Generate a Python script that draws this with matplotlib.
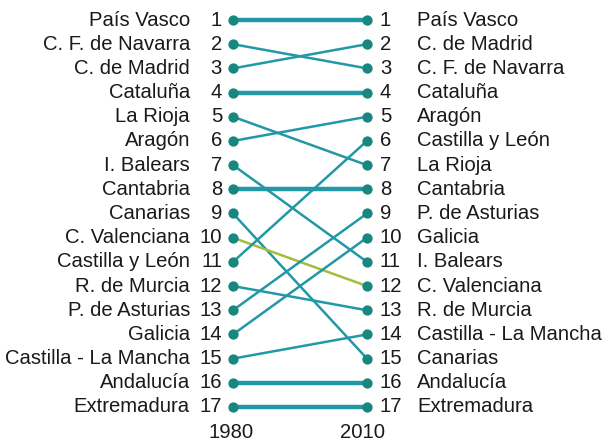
import matplotlib
matplotlib.use("Agg")
import matplotlib.pyplot as plt

# ranking 1980 -> 2010
regions_1980 = ["País Vasco", "C. F. de Navarra", "C. de Madrid", "Cataluña", "La Rioja",
                "Aragón", "I. Balears", "Cantabria", "Canarias", "C. Valenciana",
                "Castilla y León", "R. de Murcia", "P. de Asturias", "Galicia",
                "Castilla - La Mancha", "Andalucía", "Extremadura"]
regions_2010 = ["País Vasco", "C. de Madrid", "C. F. de Navarra", "Cataluña", "Aragón",
                "Castilla y León", "La Rioja", "Cantabria", "P. de Asturias", "Galicia",
                "I. Balears", "C. Valenciana", "R. de Murcia", "Castilla - La Mancha",
                "Canarias", "Andalucía", "Extremadura"]
years = ["1980", "2010"]
highlight = "C. Valenciana"

LINE_COLOR = "#2298a6"
DOT_COLOR = "#18877f"
HIGHLIGHT_COLOR = "#a4bd3c"
TEXT_COLOR = "#1a1a1a"

plt.rcParams["font.family"] = ["Liberation Sans", "DejaVu Sans"]

fig = plt.figure(figsize=(6.04, 4.41), dpi=100)
ax = fig.add_axes([0, 0, 1, 1])
ax.axis("off")
ax.set_xlim(-1.739, 2.769)
ax.set_ylim(18.406, 0.173)

fs = 14.6
for i, name in enumerate(regions_1980):
    r0 = i + 1
    r1 = regions_2010.index(name) + 1
    color = HIGHLIGHT_COLOR if name == highlight else LINE_COLOR
    lw = 3.2 if r0 == r1 else 1.8
    ax.plot([0, 1], [r0, r1], color=color, lw=lw, solid_capstyle="butt", zorder=2)

ranks = list(range(1, len(regions_1980) + 1))
ax.scatter([0] * len(ranks), ranks, s=55, color=DOT_COLOR, zorder=3, linewidths=0)
ax.scatter([1] * len(ranks), ranks, s=55, color=DOT_COLOR, zorder=3, linewidths=0)

for r, name in zip(ranks, regions_1980):
    ax.text(-0.082, r, str(r), ha="right", va="center", fontsize=fs, color=TEXT_COLOR)
    ax.text(-0.321, r, name, ha="right", va="center", fontsize=fs, color=TEXT_COLOR)
for r, name in zip(ranks, regions_2010):
    ax.text(1.097, r, str(r), ha="left", va="center", fontsize=fs, color=TEXT_COLOR)
    ax.text(1.373, r, name, ha="left", va="center", fontsize=fs, color=TEXT_COLOR)

ax.text(-0.015, 18.07, years[0], ha="center", va="center", fontsize=fs, color=TEXT_COLOR)
ax.text(0.963, 18.07, years[1], ha="center", va="center", fontsize=fs, color=TEXT_COLOR)

fig.savefig("out.png", dpi=100)
